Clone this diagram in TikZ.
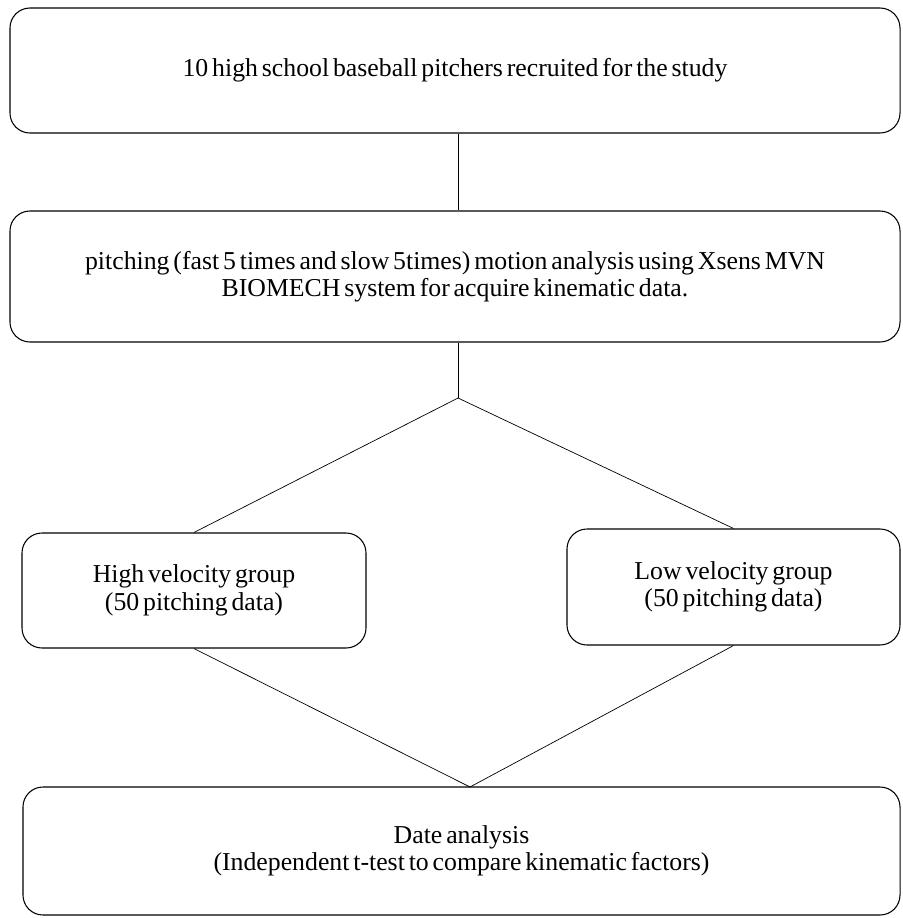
\documentclass[tikz,border=0pt]{standalone}
\usepackage{fontspec}
\setmainfont[WordSpace=0.6]{Liberation Serif}
\usetikzlibrary{positioning}

\begin{document}
\begin{tikzpicture}[x = 0.03cm, y = -0.03cm, line width = 0.6pt,
    step box/.style={draw, line width = 0.9pt, rounded corners = 0.6cm, align = center, inner sep = 0pt, font=\fontsize{22}{23.5}\selectfont},
    link/.style={line width = 0.6pt}]
      \useasboundingbox (0, 0) rectangle (903, 918);
      \node[step box, minimum width = 26.7cm, minimum height = 3.75cm] (recruit) at (455, 70.5) {10 high school baseball pitchers recruited for the study};
      \node[step box, minimum width = 26.7cm, minimum height = 3.93cm] (motion) at (455, 276.5) {pitching (fast 5 times and slow 5times) motion analysis using Xsens MVN\\BIOMECH system for acquire kinematic data.};
      \node[step box, minimum width = 10.32cm, minimum height = 3.45cm] (high) at (194, 590.5) {High velocity group\\(50 pitching data)};
      \node[step box, minimum width = 9.99cm, minimum height = 3.48cm] (low) at (733.5, 587) {Low velocity group\\(50 pitching data)};
      \node[step box, minimum width = 26.31cm, minimum height = 3.84cm] (analysis) at (461.5, 851) {Date analysis\\(Independent t-test to compare kinematic factors)};
      \coordinate (split) at (458, 398);
      \coordinate (merge) at (470, 787);
      \draw[link] (recruit.south -| split) --  (motion.north -| split);
      \draw[link] (motion.south -| split) --  (split);
      \draw[link] (split) --  (high.north);
      \draw[link] (split) --  (low.north);
      \draw[link] (high.south) --  (merge);
      \draw[link] (low.south) --  (merge);
    \end{tikzpicture}
\end{document}
